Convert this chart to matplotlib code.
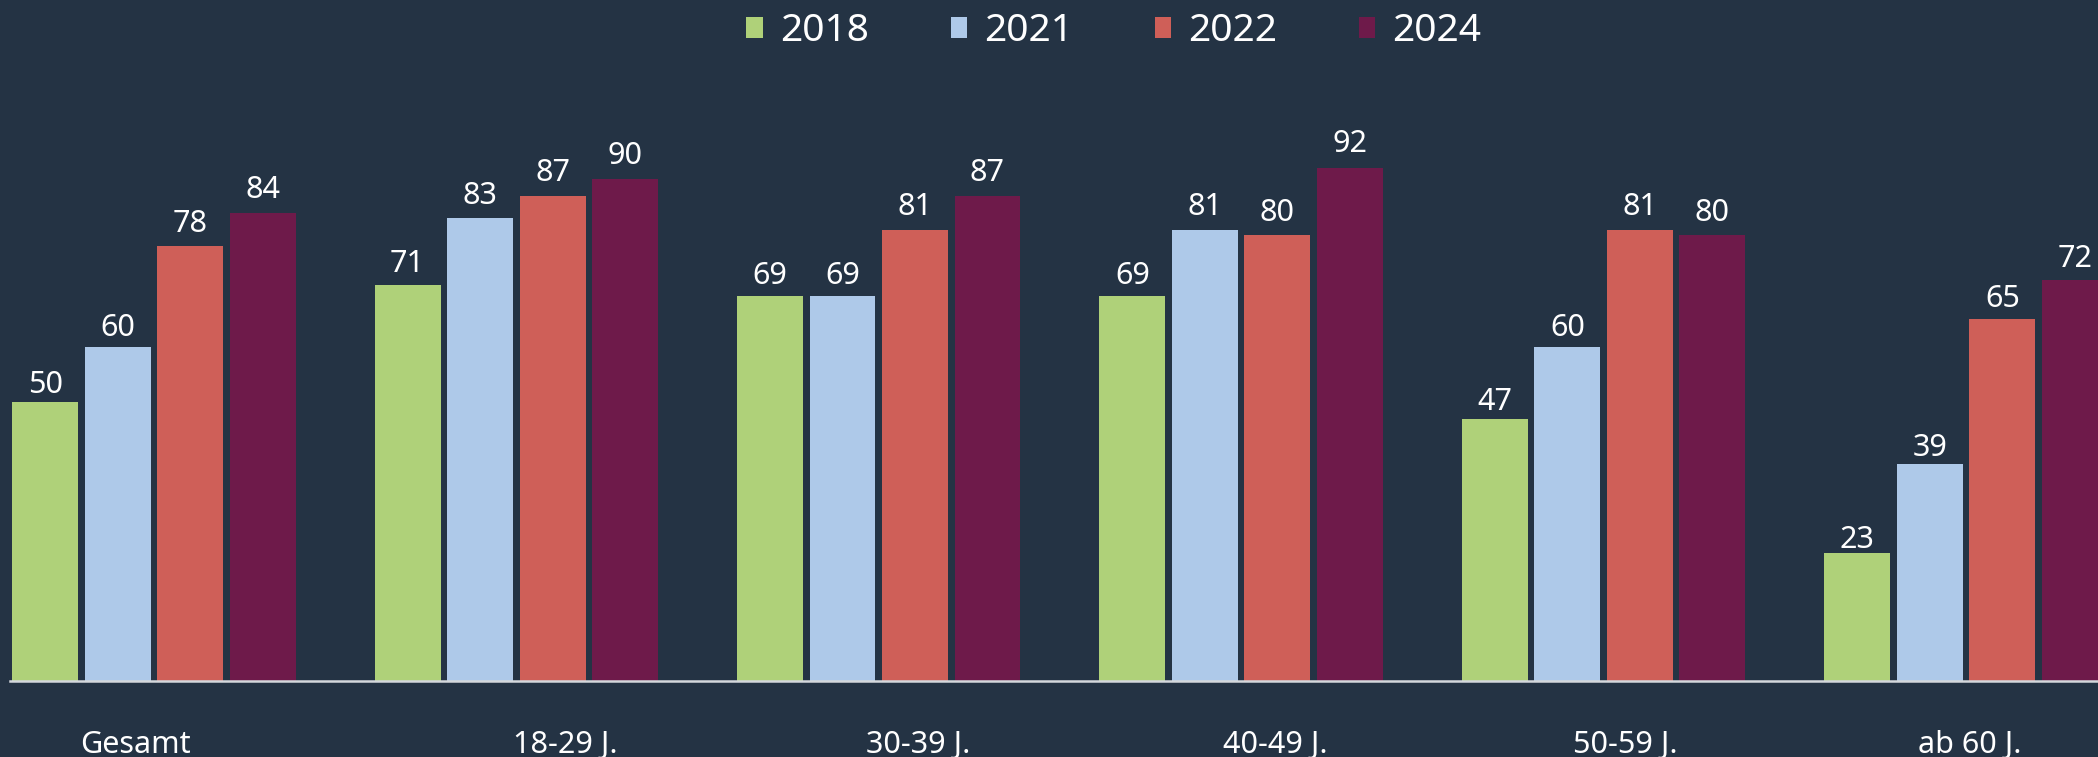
import matplotlib
matplotlib.use("Agg")
import matplotlib.pyplot as plt
from matplotlib.patches import Patch
import numpy as np

# ---- data ----
categories = ["Gesamt", "18-29 J.", "30-39 J.", "40-49 J.", "50-59 J.", "ab 60 J."]
years = ["2018", "2021", "2022", "2024"]
v2018 = [50, 71, 69, 69, 47, 23]
v2021 = [60, 83, 69, 81, 60, 39]
v2022 = [78, 87, 81, 80, 81, 65]
v2024 = [84, 90, 87, 92, 80, 72]

# ---- style ----
bg = "#243344"
colors = ["#AFD179", "#AEC9E9", "#CF5F58", "#6E1A4A"]
label_shift = [-0.052, 0.135, 0.11, 0.094, 0.061, 0.011]
label_scale = 1.029  # value labels sit on a slightly stretched scale

plt.rcParams['font.family'] = ['Noto Sans', 'DejaVu Sans']

W, H = 2098, 757
fig = plt.figure(figsize=(W / 100, H / 100), dpi=100, facecolor=bg)
ax = fig.add_axes([10 / W, 76 / H, 1 - 10 / W, 681 / H])
ax.set_facecolor(bg)

x = np.arange(len(categories))
series = [v2018, v2021, v2022, v2024]
offsets = [-0.3, -0.1, 0.1, 0.3]
width = 0.182
for vals, off, col in zip(series, offsets, colors):
    ax.bar(x + off, vals, width=width, color=col, zorder=2)
    for xi, v in zip(x + off, vals):
        ax.annotate(str(v), (xi, v * label_scale), xytext=(0, 1),
                    textcoords="offset points", ha="center", va="baseline",
                    color="white", fontsize=22)

ax.set_xlim(-0.397, 5.364)
ax.set_ylim(0, 122.2)

for s in ["top", "right", "left"]:
    ax.spines[s].set_visible(False)
ax.spines["bottom"].set_color("#d4d8dc")
ax.spines["bottom"].set_linewidth(1.8)
ax.spines["bottom"].set_zorder(3)
ax.set_yticks([])
ax.set_xticks(x + np.array(label_shift))
ax.set_xticklabels(categories, color="white", fontsize=22)
ax.tick_params(axis="x", length=0, pad=35.5)

handles = [Patch(facecolor=c, edgecolor="none") for c in colors]
leg = fig.legend(handles, years, loc="center", bbox_to_anchor=(0.531, 0.959),
                 ncol=4, frameon=False, fontsize=28, handlelength=0.42,
                 handleheight=0.45, handletextpad=0.45, columnspacing=2.09,
                 labelcolor="white")

fig.savefig("out.png", dpi=100, facecolor=bg)
